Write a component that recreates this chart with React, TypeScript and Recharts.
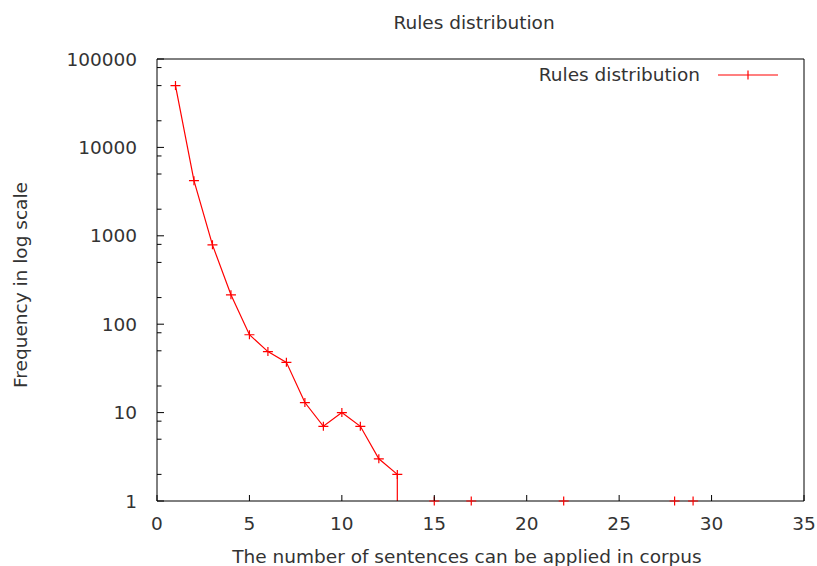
import React from 'react';
import { LineChart, Line, XAxis, YAxis } from 'recharts';

// values
const sentenceCounts = [1, 2, 3, 4, 5, 6, 7, 8, 9, 10, 11, 12, 13];
const ruleFrequencies = [50000, 4200, 790, 215, 76, 49, 37, 13, 7, 10, 7, 3, 2];
const dropCounts = [13, 13];
const dropFrequencies = [2, 1];
const tailCounts = [15, 17, 22, 28, 29];
const tailFrequencies = [1, 1, 1, 1, 1];

const xTicks = [0, 5, 10, 15, 20, 25, 30, 35];
const yMajorTicks = [1, 10, 100, 1000, 10000, 100000];
const yMinorTicks = [2, 5, 8, 20, 50, 80, 200, 500, 800, 2000, 5000, 8000, 20000, 50000, 80000];
const yTicks = [...yMajorTicks, ...yMinorTicks].sort((a, b) => a - b);

const mainData = sentenceCounts.map((x, i) => ({ x, y: ruleFrequencies[i] }));
const dropData = dropCounts.map((x, i) => ({ x, y: dropFrequencies[i] }));
const tailData = tailCounts.map((x, i) => ({ x, y: tailFrequencies[i] }));

const FONT = '"DejaVu Sans", sans-serif';
const TEXT = '#333';
const RED = '#ff0000';
const Y_GAP = 20;

const PlusDot = (props: any) => {
  const { cx, cy, index } = props;
  if (cx == null || cy == null) return <g key={index} />;
  return (
    <path
      key={index}
      d={`M${cx - 5},${cy}H${cx + 5}M${cx},${cy - 4.5}V${cy + 4.5}`}
      stroke={RED}
      strokeWidth={1.2}
      fill="none"
    />
  );
};

const LeftTick = (props: any) => {
  const { x, y, payload } = props;
  const major = yMajorTicks.includes(payload.value);
  const ax = x + Y_GAP;
  return (
    <g>
      <line x1={ax} x2={ax + (major ? 7 : 4.5)} y1={y} y2={y} stroke="#000" />
      {major && (
        <text x={x} y={y} textAnchor="end" dominantBaseline="central" fill={TEXT} fontSize={18.5} fontFamily={FONT}>
          {payload.value}
        </text>
      )}
    </g>
  );
};

const RightTick = (props: any) => {
  const { x, y, payload } = props;
  const major = yMajorTicks.includes(payload.value);
  return <line x1={x - (major ? 7 : 4.5)} x2={x} y1={y} y2={y} stroke="#000" />;
};

const BottomTick = (props: any) => {
  const { x, y, payload } = props;
  return (
    <g>
      <line x1={x} x2={x} y1={y - 6} y2={y} stroke="#000" />
      <text x={x} y={y + 29} textAnchor="middle" fill={TEXT} fontSize={18.5} fontFamily={FONT}>
        {payload.value}
      </text>
    </g>
  );
};

const TopTick = (props: any) => {
  const { x, y } = props;
  return <line x1={x} x2={x} y1={y} y2={y + 6} stroke="#000" />;
};

export default function App() {
  return (
    <div style={{ position: 'absolute', left: 0, top: 0, width: 817, height: 566, background: '#fff', fontFamily: FONT }}>
      <LineChart width={817} height={566} margin={{ top: 58, right: 0, bottom: 0, left: 0 }}>
        <XAxis
          xAxisId="bottom"
          dataKey="x"
          type="number"
          domain={[0, 35]}
          ticks={xTicks}
          interval={0}
          height={65}
          tickSize={0}
          tickMargin={0}
          tickLine={false}
          axisLine={{ stroke: '#000' }}
          tick={<BottomTick />}
        />
        <XAxis
          xAxisId="top"
          orientation="top"
          type="number"
          domain={[0, 35]}
          ticks={xTicks}
          interval={0}
          height={1}
          tickSize={0}
          tickMargin={0}
          tickLine={false}
          axisLine={{ stroke: '#000' }}
          tick={<TopTick />}
        />
        <YAxis
          yAxisId="left"
          type="number"
          scale="log"
          domain={[1, 100000]}
          ticks={yTicks}
          interval={0}
          width={157}
          tickSize={0}
          tickMargin={Y_GAP}
          tickLine={false}
          axisLine={{ stroke: '#000' }}
          tick={<LeftTick />}
        />
        <YAxis
          yAxisId="right"
          orientation="right"
          type="number"
          scale="log"
          domain={[1, 100000]}
          ticks={yTicks}
          interval={0}
          width={13}
          tickSize={0}
          tickMargin={0}
          tickLine={false}
          axisLine={{ stroke: '#000' }}
          tick={<RightTick />}
        />
        <Line
          xAxisId="bottom"
          yAxisId="left"
          data={mainData}
          dataKey="y"
          stroke={RED}
          strokeWidth={1.2}
          dot={PlusDot}
          isAnimationActive={false}
        />
        <Line
          xAxisId="bottom"
          yAxisId="left"
          data={dropData}
          dataKey="y"
          stroke={RED}
          strokeWidth={1.2}
          dot={false}
          isAnimationActive={false}
        />
        <Line
          xAxisId="bottom"
          yAxisId="left"
          data={tailData}
          dataKey="y"
          stroke="none"
          dot={PlusDot}
          isAnimationActive={false}
        />
      </LineChart>
      <svg width={817} height={566} style={{ position: 'absolute', left: 0, top: 0, pointerEvents: 'none' }}>
        <text x={474} y={29} textAnchor="middle" fill={TEXT} fontSize={18.5} fontFamily={FONT}>
          Rules distribution
        </text>
        <text x={700} y={81} textAnchor="end" fill={TEXT} fontSize={18.5} fontFamily={FONT}>
          Rules distribution
        </text>
        <line x1={718} x2={778} y1={75} y2={75} stroke={RED} strokeWidth={1.2} />
        <path d="M748,70.5V79.5" stroke={RED} strokeWidth={1.2} />
        <text
          x={20}
          y={285}
          transform="rotate(-90 20 285)"
          textAnchor="middle"
          dominantBaseline="central"
          fill={TEXT}
          fontSize={18.5}
          fontFamily={FONT}
        >
          Frequency in log scale
        </text>
        <text x={467} y={563} textAnchor="middle" fill={TEXT} fontSize={18.5} fontFamily={FONT}>
          The number of sentences can be applied in corpus
        </text>
      </svg>
    </div>
  );
}
